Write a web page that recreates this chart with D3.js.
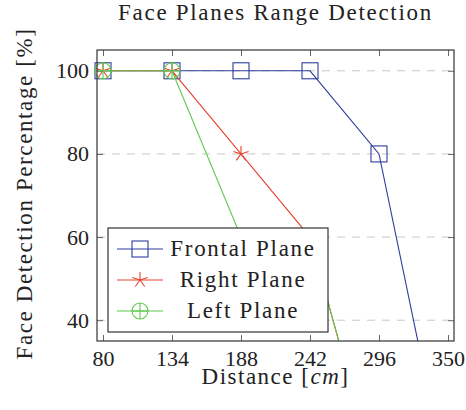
<!DOCTYPE html>
<html>
<head>
<meta charset="utf-8">
<script src="https://cdn.jsdelivr.net/npm/d3@7"></script>
<style>
  body { margin: 0; background: #fff; }
  text { font-family: "Liberation Serif", serif; fill: #222; }
</style>
</head>
<body>
<div id="graph"></div>
<script>
const distances = [80, 134, 188, 242, 296, 350];
const frontal = [100, 100, 100, 100, 80, 0];
const rightPlane = [100, 100, 80, 60, 0, 0];
const leftPlane = [100, 100, 60, 60, 0, 0];
const yTicks = [40, 60, 80, 100];
const seriesNames = ['Frontal Plane', 'Right Plane', 'Left Plane'];

const width = 466, height = 410;
const plot = { left: 97, right: 454, top: 50, bottom: 341 };

const svg = d3.select('#graph').append('svg')
  .attr('width', width)
  .attr('height', height);

const x = d3.scaleLinear().domain([75.3, 354.7]).range([plot.left, plot.right]);
const y = d3.scaleLinear().domain([35, 105]).range([plot.bottom, plot.top]);

const series = [
  { name: seriesNames[0], values: frontal, color: '#2e3d9e', mark: 'square' },
  { name: seriesNames[1], values: rightPlane, color: '#e8412f', mark: 'star' },
  { name: seriesNames[2], values: leftPlane, color: '#5cc84a', mark: 'oplus' }
];

// grid
svg.append('g').selectAll('line')
  .data(yTicks)
  .enter().append('line')
  .attr('x1', plot.left).attr('x2', plot.right)
  .attr('y1', d => y(d)).attr('y2', d => y(d))
  .attr('stroke', '#c8c8c8')
  .attr('stroke-dasharray', '8,7');

// axes (inward ticks all round, like pgfplots)
const tickStyle = g => {
  g.select('.domain').remove();
  g.selectAll('.tick line').attr('stroke', '#666');
  g.selectAll('.tick text')
    .style('font-family', '"Liberation Serif", serif')
    .style('font-size', '22px')
    .attr('fill', '#222');
};

svg.append('g')
  .attr('transform', `translate(0,${plot.bottom})`)
  .call(d3.axisBottom(x).tickValues(distances).tickSizeInner(-6).tickSizeOuter(0).tickPadding(9))
  .call(tickStyle);
svg.append('g')
  .attr('transform', `translate(0,${plot.top})`)
  .call(d3.axisTop(x).tickValues(distances).tickSizeInner(-6).tickSizeOuter(0).tickFormat(''))
  .call(tickStyle);
svg.append('g')
  .attr('transform', `translate(${plot.left},0)`)
  .call(d3.axisLeft(y).tickValues(yTicks).tickSizeInner(-6).tickSizeOuter(0).tickPadding(8))
  .call(tickStyle);
svg.append('g')
  .attr('transform', `translate(${plot.right},0)`)
  .call(d3.axisRight(y).tickValues(yTicks).tickSizeInner(-6).tickSizeOuter(0).tickFormat(''))
  .call(tickStyle);

// clip for lines
svg.append('clipPath').attr('id', 'clip')
  .append('rect')
  .attr('x', plot.left).attr('y', plot.top)
  .attr('width', plot.right - plot.left).attr('height', plot.bottom - plot.top);

const line = d3.line().x(d => x(d[0])).y(d => y(d[1]));

function drawMark(g, type, color) {
  if (type === 'square') {
    g.append('rect').attr('x', -8).attr('y', -8).attr('width', 16).attr('height', 16)
      .attr('fill', 'none').attr('stroke', color).attr('stroke-width', 1.1);
  } else if (type === 'star') {
    const r = 8;
    d3.range(5).forEach(i => {
      const a = -Math.PI / 2 + i * 2 * Math.PI / 5;
      g.append('line').attr('x1', 0).attr('y1', 0)
        .attr('x2', r * Math.cos(a)).attr('y2', r * Math.sin(a))
        .attr('stroke', color).attr('stroke-width', 1.1);
    });
  } else {
    g.append('circle').attr('r', 8).attr('fill', 'none').attr('stroke', color).attr('stroke-width', 1.1);
    g.append('line').attr('x1', -8).attr('x2', 8).attr('stroke', color).attr('stroke-width', 1.1);
    g.append('line').attr('y1', -8).attr('y2', 8).attr('stroke', color).attr('stroke-width', 1.1);
  }
}

series.forEach(s => {
  const pts = distances.map((d, i) => [d, s.values[i]]);
  svg.append('path')
    .datum(pts)
    .attr('clip-path', 'url(#clip)')
    .attr('fill', 'none')
    .attr('stroke', s.color)
    .attr('stroke-width', 1.1)
    .attr('d', line);
  // markers only where the point lies inside the axis range
  pts.filter(p => p[1] >= y.domain()[0] && p[1] <= y.domain()[1]).forEach(p => {
    const g = svg.append('g').attr('transform', `translate(${x(p[0])},${y(p[1])})`);
    drawMark(g, s.mark, s.color);
  });
});

// frame
svg.append('rect')
  .attr('x', plot.left).attr('y', plot.top)
  .attr('width', plot.right - plot.left).attr('height', plot.bottom - plot.top)
  .attr('fill', 'none').attr('stroke', '#333').attr('stroke-width', 1.2);

// legend
const legend = svg.append('g');
legend.append('rect')
  .attr('x', 108).attr('y', 228).attr('width', 220).attr('height', 104)
  .attr('fill', '#fff').attr('stroke', '#333').attr('stroke-width', 1.2);
series.forEach((s, i) => {
  const cy = 249 + i * 31;
  legend.append('line').attr('x1', 117).attr('x2', 163).attr('y1', cy).attr('y2', cy)
    .attr('stroke', s.color).attr('stroke-width', 1.1);
  drawMark(legend.append('g').attr('transform', `translate(140,${cy})`), s.mark, s.color);
  legend.append('text')
    .attr('x', 243).attr('y', cy + 7)
    .attr('text-anchor', 'middle')
    .style('font-size', '23px')
    .style('letter-spacing', '1.7px')
    .text(s.name);
});

// title and labels
svg.append('text')
  .attr('x', (plot.left + plot.right) / 2).attr('y', 20)
  .attr('text-anchor', 'middle')
  .style('font-size', '23px').style('letter-spacing', '1.7px')
  .text('Face Planes Range Detection');

const xl = svg.append('text')
  .attr('x', (plot.left + plot.right) / 2).attr('y', 384)
  .attr('text-anchor', 'middle')
  .style('font-size', '23px').style('letter-spacing', '1.5px');
xl.append('tspan').text('Distance [');
xl.append('tspan').style('font-style', 'italic').text('cm');
xl.append('tspan').text(']');

svg.append('text')
  .attr('transform', `translate(32,${(plot.top + plot.bottom) / 2 - 2}) rotate(-90)`)
  .attr('text-anchor', 'middle')
  .style('font-size', '23px').style('letter-spacing', '1.6px')
  .text('Face Detection Percentage [%]');
</script>
</body>
</html>
